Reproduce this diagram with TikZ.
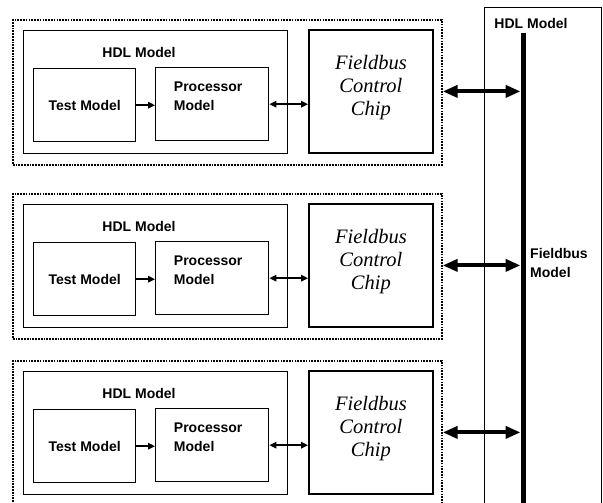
\documentclass[tikz,border=0pt]{standalone}
\usepackage{fontspec}
\setmainfont{Liberation Serif}
\setsansfont{Liberation Sans}
\usetikzlibrary{arrows.meta}

\begin{document}
\begin{tikzpicture}[
      x=1pt, y=-1pt,
      frame/.style={draw, line width=1.7pt, dash pattern=on 1.7pt off 1.1pt,
                    minimum width=429pt, minimum height=145pt,
                    anchor=north west, inner sep=0pt},
      hdl/.style={draw, line width=1.4pt, minimum width=264pt, minimum height=123pt,
                  anchor=north west, inner sep=0pt},
      blk/.style={draw, line width=1.4pt, minimum height=73pt, anchor=north west,
                  inner sep=0pt, font=\sffamily\bfseries\fontsize{14}{19}\selectfont},
      chipbox/.style={draw, line width=1.8pt, minimum width=124pt, minimum height=123pt,
                      anchor=north west, inner sep=0pt},
      lbl/.style={font=\sffamily\bfseries\fontsize{14}{19}\selectfont, align=left, inner sep=0pt},
      chiptxt/.style={font=\itshape\fontsize{20.5}{23}\selectfont, align=center, inner sep=0pt},
      arr/.style={-{Triangle[length=7pt,width=6.5pt]}, line width=1.6pt},
      darr/.style={{Triangle[length=7pt,width=6.5pt]}-{Triangle[length=7pt,width=6.5pt]}, line width=1.6pt},
      bigarr/.style={{Triangle[length=15pt,width=12pt]}-{Triangle[length=15pt,width=12pt]},
                     line width=4pt, shorten >=2.5pt}
    ]
      \useasboundingbox (0,0) rectangle (603,503);
      \clip (0,0) rectangle (603,503);

      \node[draw, line width=1.2pt, anchor=north west, minimum width=117pt,
            minimum height=520pt, inner sep=0pt] (fbox) at (484,7) {};
      \node[lbl] (fboxlbl) at (531,23) {HDL Model};
      \coordinate (bustop) at (523,33);
      \coordinate (busbot) at (523,515);
      \draw[line width=5pt] (bustop) -- (busbot);
      \node[lbl, anchor=west] (buslbl) at (530,263) {Fieldbus\\Model};

      \foreach \r/\y in {1/19,2/193,3/360} {
        \node[frame] (frame\r) at (12,\y) {};
        \node[hdl] (hdl\r) at (23,\y+11) {};
        \node[lbl] (hdllbl\r) at (139,\y+33) {HDL Model};
        \node[blk, minimum width=102pt] (test\r) at (33,\y+49) {Test Model};
        \node[blk, minimum width=113pt] (proc\r) at (155,\y+48) {};
        \node[lbl] (proctxt\r) at ([xshift=-4pt,yshift=8pt]proc\r.center) {Processor\\Model};
        \node[chipbox] (chip\r) at (308,\y+10) {};
        \node[chiptxt] (chiptxt\r) at ([yshift=4pt]chip\r.center) {Fieldbus\\Control\\Chip};
        \draw[arr] (test\r.east) -- (test\r.east -| proc\r.west);
        \draw[darr] (proc\r.east) -- (proc\r.east -| chip\r.west);
        \draw[bigarr] (frame\r.east |- chip\r.center) -- (bustop |- chip\r.center);
      }
    \end{tikzpicture}
\end{document}
